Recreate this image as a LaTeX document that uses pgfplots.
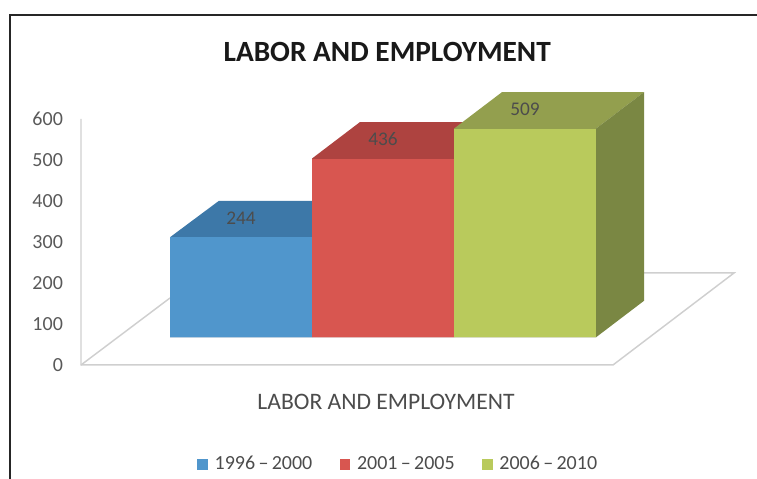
\documentclass[border=0pt]{standalone}
\usepackage{fontspec}
\setmainfont{Carlito}
\usepackage{pgfplots}
\pgfplotsset{compat=1.18}
\definecolor{cblue}{HTML}{5096CC}
\definecolor{cbluet}{HTML}{3D78A8}
\definecolor{cred}{HTML}{D85650}
\definecolor{credt}{HTML}{AE4340}
\definecolor{cgreen}{HTML}{B9CA5C}
\definecolor{cgreent}{HTML}{939F4E}
\definecolor{cgreens}{HTML}{7A8743}
\definecolor{cgrid}{HTML}{CFCFCF}
\begin{document}
\begin{tikzpicture}[x=1pt,y=1pt]
\begin{axis}[
  name=a,
  scale only axis, width=567.75pt, height=359.25pt,
  xmin=0, xmax=757, ymin=-279.27, ymax=889.02,
  axis line style={draw=none},
  xtick=\empty,
  ytick={0,100,200,300,400,500,600},
  tick style={draw=none},
  /pgf/number format/assume math mode=true,
  yticklabel style={anchor=east, xshift=50.7pt, yshift=-0.6pt, font=\fontsize{15pt}{17pt}\selectfont, text=black!65},
  ybar, bar width=142, bar shift=0pt,
  title={\textbf{LABOR AND EMPLOYMENT}},
  title style={at={(axis description cs:0.5115,0.874)},anchor=center,font=\fontsize{22pt}{24pt}\selectfont,text=black!90},
  xlabel={LABOR AND EMPLOYMENT},
  xlabel style={at={(axis description cs:0.51,0.161)},anchor=center,font=\fontsize{17.7pt}{20pt}\selectfont,text=black!70},
  legend columns=3,
  legend style={at={(axis description cs:0.5265,0.0313)},anchor=center,draw=none,fill=none,
    font=\fontsize{15pt}{17pt}\selectfont,text=black!70,
    /tikz/every odd column/.append style={column sep=3pt},
    /tikz/every even column/.append style={column sep=18.5pt}},
  legend image code/.code={\fill[#1,yshift=-20.6pt] (0pt,-4pt) rectangle (8pt,4pt);},
  nodes near coords,
  nodes near coords style={anchor=center,yshift=14.5pt,font=\fontsize{14.5pt}{16pt}\selectfont,text=black!70},
]
% frame and floor, in axis units
\addplot[forget plot,sharp plot,no markers,nodes near coords={},draw=black!85,line width=1pt,fill=none] coordinates {(757,852.4)(10,852.4)(10,-279.27)};
\addplot[forget plot,sharp plot,no markers,nodes near coords={},draw=cgrid,line width=1.1pt,fill=none] coordinates {(81,598.8)(81,-1.2)(613,-1.2)(734,223.2)(643,223.2)};
\addplot[forget plot,sharp plot,no markers,nodes near coords={},draw=cgrid,line width=1.1pt,fill=none] coordinates {(81,-1.2)(170,162.2)};
% top and side faces: value at the front edge, value + depth at the back edge
\addplot[forget plot,sharp plot,no markers,nodes near coords={},yshift=20.4pt,draw=none,fill=cbluet] coordinates {(170,244)(219,333)(360,333)(312,244)} \closedcycle;
\addplot[yshift=20.4pt,draw=none,fill=cblue] coordinates {(241,244)};
\addlegendentry{1996\,–\,2000}
\addplot[forget plot,sharp plot,no markers,nodes near coords={},yshift=20.4pt,draw=none,fill=credt] coordinates {(312,436)(360,525)(502,525)(454,436)} \closedcycle;
\addplot[yshift=20.4pt,draw=none,fill=cred] coordinates {(383,436)};
\addlegendentry{2001\,–\,2005}
\addplot[forget plot,sharp plot,no markers,nodes near coords={},yshift=20.4pt,draw=none,fill=cgreent] coordinates {(454,509)(502,598)(644,598)(596,509)} \closedcycle;
\addplot[forget plot,sharp plot,no markers,nodes near coords={},yshift=20.4pt,draw=none,fill=cgreens] coordinates {(596,509)(644,598)(644,89)(596,0)} \closedcycle;
\addplot[yshift=20.4pt,draw=none,fill=cgreen] coordinates {(525,509)};
\addlegendentry{2006\,–\,2010}
\end{axis}
\pgfresetboundingbox
\path[use as bounding box] (a.south west) rectangle (a.north east);
\end{tikzpicture}
\end{document}
